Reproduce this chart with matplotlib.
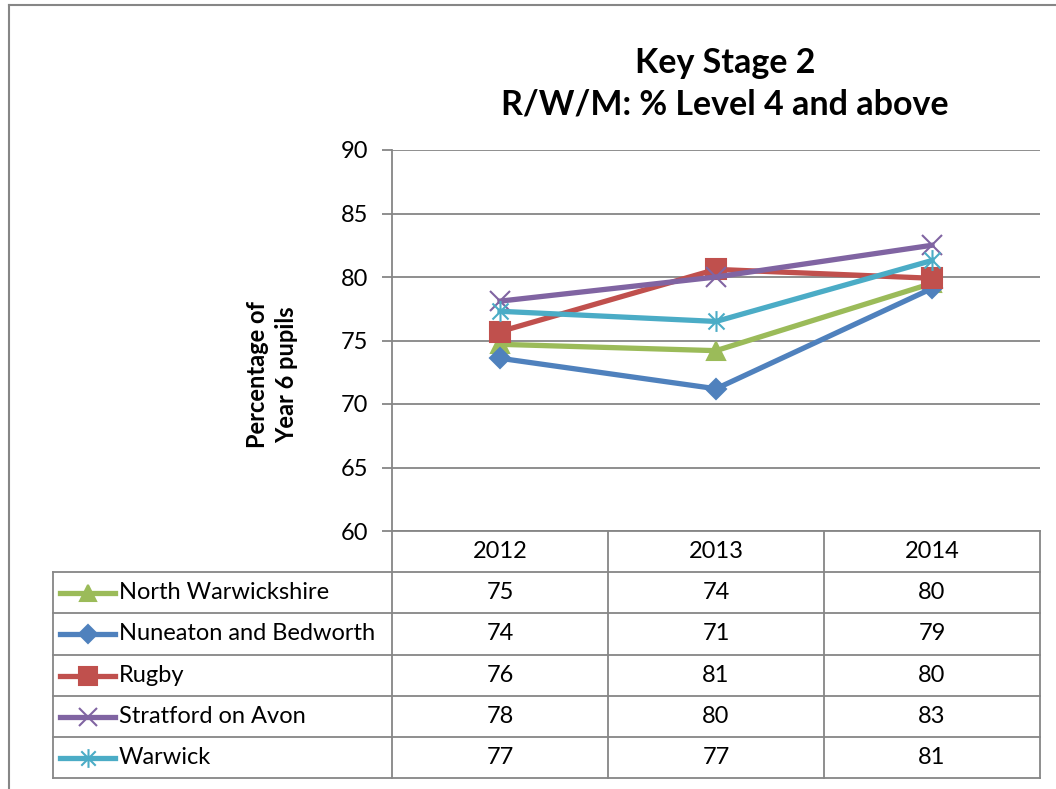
import matplotlib.pyplot as plt
from matplotlib.lines import Line2D
from matplotlib.path import Path

plt.rcParams['font.family'] = ['Lato', 'DejaVu Sans']

# --- data ---
years = ["2012", "2013", "2014"]
areas = ["North Warwickshire", "Nuneaton and Bedworth", "Rugby",
         "Stratford on Avon", "Warwick"]
north_warks = [74.7, 74.2, 79.5]
nuneaton = [73.6, 71.2, 79.1]
rugby = [75.7, 80.6, 79.9]
stratford = [78.1, 80.0, 82.5]
warwick = [77.3, 76.5, 81.3]
# rounded values shown in the data table
table_vals = [[75, 74, 80], [74, 71, 79], [76, 81, 80], [78, 80, 83], [77, 77, 81]]

W, H = 1056, 789
fig = plt.figure(figsize=(W / 100, H / 100), dpi=100)


def fx(px):
    return px / W


def fy(py):
    return 1 - py / H


# asterisk marker like Excel's "star"
star = Path([(-1, -1), (1, 1), (-1, 1), (1, -1), (0, -1.3), (0, 1.3)],
            [Path.MOVETO, Path.LINETO, Path.MOVETO, Path.LINETO, Path.MOVETO, Path.LINETO])

styles = [
    ("#9BBB59", "^", 13),
    ("#4F81BD", "D", 10),
    ("#C0504D", "s", 14),
    ("#8064A2", "x", 14),
    ("#4BACC6", star, 15),
]
series = [north_warks, nuneaton, rugby, stratford, warwick]

ax_l, ax_r, ax_t, ax_b = 392, 1040, 150, 531
ax = fig.add_axes([fx(ax_l), fy(ax_b), fx(ax_r - ax_l), fy(ax_t) - fy(ax_b)])
xs = range(len(years))
for vals, (col, mk, ms) in zip(series, styles):
    ax.plot(xs, vals, color=col, lw=3.8, marker=mk, markersize=ms,
            markerfacecolor=col, markeredgecolor=col, markeredgewidth=1.5,
            solid_joinstyle='round')

grid_c = "#868686"
ax.set_xlim(-0.5, 2.5)
ax.set_ylim(60, 90)
ax.set_yticks(range(60, 91, 5))
ax.yaxis.grid(True, color=grid_c, lw=1.3)
ax.set_axisbelow(True)
ax.set_xticks([])
for s in ["top", "right", "bottom"]:
    ax.spines[s].set_visible(False)
ax.spines["left"].set_color(grid_c)
ax.spines["left"].set_linewidth(1.3)
ax.tick_params(axis='y', length=7, width=1.3, color=grid_c, labelsize=17, pad=10)

fig.text(fx(272), fy(375), "Percentage of\nYear 6 pupils", rotation=90, ha='center', va='center',
         fontsize=17, fontweight='bold', linespacing=1.3)

# title
fig.text(fx(725), fy(84), "Key Stage 2\nR/W/M: % Level 4 and above", ha='center', va='center',
         fontsize=24.5, fontweight='bold', linespacing=1.35)

# --- data table ---
col_x = [392, 608, 824, 1040]
row_y = [531, 572, 613, 655, 696, 737, 778]
tbl_left = 53


def hline(x0, x1, y):
    fig.add_artist(Line2D([fx(x0), fx(x1)], [fy(y), fy(y)], color=grid_c, lw=1.3))


def vline(x, y0, y1):
    fig.add_artist(Line2D([fx(x), fx(x)], [fy(y0), fy(y1)], color=grid_c, lw=1.3))


hline(col_x[0], col_x[-1], row_y[0])
for y in row_y[1:]:
    hline(tbl_left, col_x[-1], y)
vline(tbl_left, row_y[1], row_y[-1])
for x in col_x:
    vline(x, row_y[0], row_y[-1])

for j, yr in enumerate(years):
    fig.text(fx((col_x[j] + col_x[j + 1]) / 2), fy((row_y[0] + row_y[1]) / 2), yr,
             ha='center', va='center', fontsize=17)

for i, name in enumerate(areas):
    yc = (row_y[i + 1] + row_y[i + 2]) / 2
    col, mk, ms = styles[i]
    fig.add_artist(Line2D([fx(60), fx(115)], [fy(yc), fy(yc)], color=col, lw=3.8))
    fig.add_artist(Line2D([fx(87.5)], [fy(yc)], color=col, marker=mk, markersize=ms * 0.9,
                          markerfacecolor=col, markeredgecolor=col, markeredgewidth=1.5))
    fig.text(fx(119), fy(yc), name, ha='left', va='center', fontsize=17)
    for j in range(len(years)):
        fig.text(fx((col_x[j] + col_x[j + 1]) / 2), fy(yc), str(table_vals[i][j]),
                 ha='center', va='center', fontsize=17)

# outer chart border
fig.add_artist(Line2D([fx(9), fx(9)], [fy(5), 0], color=grid_c, lw=1.5))
fig.add_artist(Line2D([fx(9), 1], [fy(5), fy(5)], color=grid_c, lw=1.5))

fig.savefig("out.png", dpi=100, facecolor='white')
